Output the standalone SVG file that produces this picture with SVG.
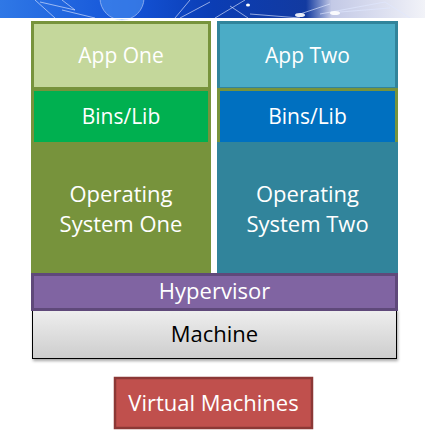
<svg xmlns="http://www.w3.org/2000/svg" width="425" height="436" viewBox="0 0 425 436">
<defs>
<style>
.t{font-family:"Open Sans","Noto Sans","Liberation Sans",sans-serif;text-anchor:middle;fill:#ffffff}
.net{stroke:#dfe8ff;stroke-width:0.8;fill:none;opacity:0.8}
</style>
<linearGradient id="banner" x1="0" y1="0" x2="1" y2="0">
<stop offset="0" stop-color="#2f78e6"/>
<stop offset="0.3" stop-color="#1454d8"/>
<stop offset="0.5" stop-color="#0b3db4"/>
<stop offset="0.72" stop-color="#123aa0"/>
<stop offset="0.78" stop-color="#c3c9e6"/>
<stop offset="0.9" stop-color="#dcdff0"/>
<stop offset="1" stop-color="#f2f3f8"/>
</linearGradient>
<linearGradient id="mach" x1="0" y1="0" x2="0" y2="1">
<stop offset="0" stop-color="#efefef"/>
<stop offset="1" stop-color="#cdcdcd"/>
</linearGradient>
<filter id="sh" x="-5%" y="-20%" width="110%" height="150%">
<feDropShadow dx="1" dy="2" stdDeviation="1.5" flood-color="#000" flood-opacity="0.35"/>
</filter>
</defs>
<rect width="425" height="436" fill="#ffffff"/>
<g id="banner-img">
<rect x="0" y="0" width="425" height="18" fill="url(#banner)"/>
<circle cx="122" cy="-2" r="22" fill="#4a90f0" opacity="0.6" stroke="#cfe0ff" stroke-width="1"/>
<path class="net" d="M35 0 L55 18 M40 2 L75 10 L62 0 M62 10 L95 18 M175 18 L190 0 M180 18 L210 2 M215 18 L245 0 M230 6 L248 18 M250 14 L300 18 M300 14 L330 4 M320 14 L385 2 M385 2 L410 18 M340 12 L390 8"/>
<ellipse cx="300" cy="15" rx="5" ry="2" fill="#ffffff" opacity="0.9"/>
<ellipse cx="335" cy="13" rx="5" ry="2" fill="#ffffff" opacity="0.9"/>
<ellipse cx="248" cy="5" rx="2" ry="1.5" fill="#ffffff"/>
<rect x="0" y="18" width="425" height="1" fill="#ffffff"/>
</g>
<g id="app-one">
<rect x="32.5" y="22.5" width="177" height="66" fill="#c4d79b" stroke="#77933c" stroke-width="3"/>
<text class="t" x="121" y="63" font-size="21">App One</text>
</g>
<g id="bins-one">
<rect x="32.5" y="89.5" width="177" height="54" fill="#00b050" stroke="#77933c" stroke-width="3"/>
<text class="t" x="121" y="124" font-size="21">Bins/Lib</text>
</g>
<g id="os-one">
<rect x="32.5" y="143.5" width="177" height="129" fill="#77933c" stroke="#77933c" stroke-width="3"/>
<text class="t" x="121" y="202" font-size="22">Operating</text>
<text class="t" x="121" y="232" font-size="22">System One</text>
</g>
<g id="app-two">
<rect x="218.5" y="22.5" width="178" height="66" fill="#4bacc6" stroke="#31849b" stroke-width="3"/>
<text class="t" x="307.5" y="63" font-size="21">App Two</text>
</g>
<g id="bins-two">
<rect x="218.5" y="89.5" width="178" height="54" fill="#0070c0" stroke="#77933c" stroke-width="3"/>
<text class="t" x="307.5" y="124" font-size="21">Bins/Lib</text>
</g>
<g id="os-two">
<rect x="218.5" y="143.5" width="178" height="129" fill="#31849b" stroke="#31849b" stroke-width="3"/>
<text class="t" x="307.5" y="202" font-size="22">Operating</text>
<text class="t" x="307.5" y="232" font-size="22">System Two</text>
</g>
<g id="machine">
<rect x="32.5" y="309.5" width="364" height="49" fill="url(#mach)" stroke="#000000" stroke-width="1" filter="url(#sh)"/>
<text class="t" x="214.5" y="342" font-size="22" style="fill:#000000">Machine</text>
</g>
<g id="hypervisor">
<rect x="32.5" y="274.5" width="364" height="35" fill="#8064a2" stroke="#5f497a" stroke-width="3"/>
<text class="t" x="214.5" y="299" font-size="22">Hypervisor</text>
</g>
<g id="virtual-machines">
<rect x="115" y="378" width="197" height="50" fill="#c0504d" stroke="#8c3836" stroke-width="2.5"/>
<text class="t" x="213.5" y="411" font-size="22">Virtual Machines</text>
</g>
<g id="connectors"></g>
</svg>
